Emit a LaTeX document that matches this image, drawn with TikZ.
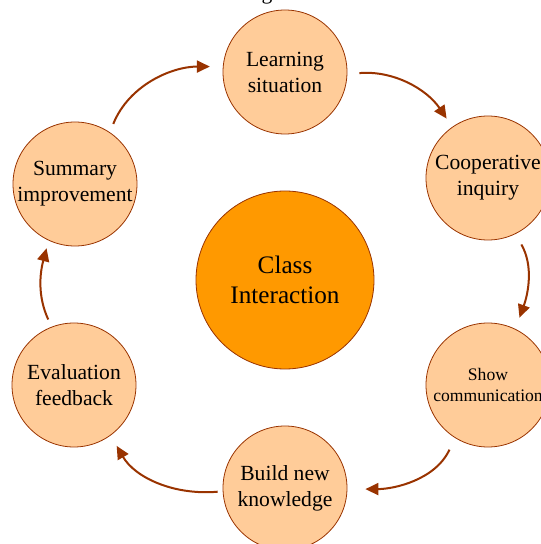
\documentclass[tikz,border=0pt]{standalone}
\usepackage{fontspec}
\setmainfont{Liberation Serif}
\usetikzlibrary{arrows.meta}
\definecolor{brn}{HTML}{993300}
\definecolor{lightor}{HTML}{FFCC99}
\definecolor{midor}{HTML}{FF9900}
\tikzset{
  stage/.style={circle, draw=brn, line width=0.8pt, fill=lightor, minimum size=124pt, inner sep=0pt, align=center, font=\fontsize{21.6}{26}\selectfont},
  small/.style={font=\fontsize{17.6}{21}\selectfont},
  hub/.style={circle, draw=brn, line width=0.8pt, fill=midor, minimum size=178pt, inner sep=0pt, align=center, font=\fontsize{25.2}{30}\selectfont},
  arr/.style={draw=brn, line width=2pt, -{Triangle[length=13pt,width=12pt]}}
}
\begin{document}
\begin{tikzpicture}[x=1pt,y=1pt]
\useasboundingbox (0,0) rectangle (541,544);
\node[anchor=base, inner sep=0pt, font=\fontsize{21.6}{26}\selectfont] (top) at (267,544) {g};
\node[hub] (cls) at (285,264) {Class\\Interaction};
\node[stage] (learn) at (285,472) {Learning\\situation};
\node[stage] (coop) at (488,366) {Cooperative\\inquiry};
\node[stage, small] (show) at (488,159) {Show\\communication};
\node[stage] (build) at (285,56) {Build new\\knowledge};
\node[stage] (eval) at (74,159) {Evaluation\\feedback};
\node[stage] (sum) at (75,360) {Summary\\improvement};
\draw[arr, shorten <=9pt, shorten >=13pt] (sum.56) to[out=68, in=180] (learn.175);
\draw[arr, shorten <=12pt, shorten >=10pt] (learn.-2) to[out=5, in=124] (coop.125);
\draw[arr, shorten <=12pt, shorten >=12pt] (coop.-64) to[out=-60, in=70] (show.64);
\draw[arr, shorten <=13pt, shorten >=18pt] (show.-122) to[out=-115, in=0] (build.-1);
\draw[arr, shorten <=5pt, shorten >=12pt] (build.183) to[out=185, in=-60] (eval.-54);
\draw[arr, shorten <=8pt, shorten >=8pt] (eval.111) to[out=115, in=-105] (sum.-115);
\end{tikzpicture}
\end{document}
